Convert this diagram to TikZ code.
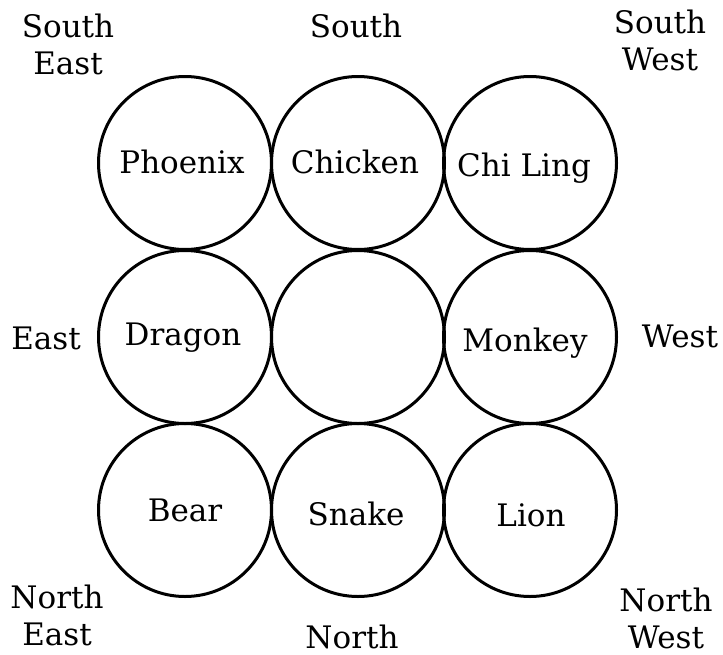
\documentclass[tikz,border=0pt]{standalone}
\usepackage{fontspec}
\setmainfont{DejaVu Serif}
\begin{document}
\begin{tikzpicture}[x=1pt,y=-1pt,
  ring/.style={circle,draw,line width=3pt,minimum size=173pt,inner sep=0pt},
  lbl/.style={font=\fontsize{31}{37}\selectfont,inner sep=0pt,anchor=base,align=center}]
\useasboundingbox (0,0) rectangle (723,654);
% circles
\node[ring] (c11) at (185,163) {};
\node[ring] (c12) at (358,163) {};
\node[ring] (c13) at (530,163) {};
\node[ring] (c21) at (185,337) {};
\node[ring] (c22) at (358,337) {};
\node[ring] (c23) at (530,337) {};
\node[ring] (c31) at (185,510) {};
\node[ring] (c32) at (358,510) {};
\node[ring] (c33) at (530,510) {};
% inner labels
\node[lbl] (phoenix) at (182,173) {Phoenix};
\node[lbl] (chicken) at (355,173) {Chicken};
\node[lbl] (chiling) at (524,176) {Chi Ling};
\node[lbl] (dragon) at (183,345) {Dragon};
\node[lbl] (monkey) at (525,351) {Monkey};
\node[lbl] (bear) at (185,521) {Bear};
\node[lbl] (snake) at (356,525) {Snake};
\node[lbl] (lion) at (531,526) {Lion};
% directions (base = baseline of last line)
\node[lbl] (se) at (68,74) {South\\East};
\node[lbl] (s) at (356,37) {South};
\node[lbl] (sw) at (660,70) {South\\West};
\node[lbl] (e) at (46,349) {East};
\node[lbl] (w) at (680,347) {West};
\node[lbl] (ne) at (57,645) {North\\East};
\node[lbl] (n) at (352,648) {North};
\node[lbl] (nw) at (666,648) {North\\West};
\end{tikzpicture}
\end{document}
